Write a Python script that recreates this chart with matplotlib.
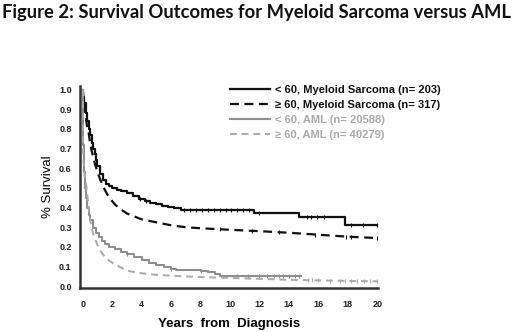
"""
Kaplan-Meier style survival curves: Myeloid Sarcoma versus AML by age group.
"""
import numpy as np
import matplotlib
matplotlib.use('Agg')
import matplotlib.pyplot as plt

# Myeloid sarcoma, age < 60 (n=203)
ms_young_t = [0, 0.05, 0.1, 0.2, 0.3, 0.4, 0.5, 0.6, 0.7, 0.8, 0.9, 1.0, 1.2, 1.4, 1.6,
              1.8, 2.0, 2.3, 2.6, 3.0, 3.4, 3.8, 4.2, 4.6, 5.0, 5.4, 5.8, 6.2, 6.7,
              11.6, 14.7, 17.8, 20.0]
ms_young_s = [1.0, 0.96, 0.93, 0.88, 0.84, 0.80, 0.77, 0.73, 0.70, 0.67, 0.64, 0.61, 0.57,
              0.54, 0.52, 0.51, 0.50, 0.49, 0.485, 0.475, 0.46, 0.445, 0.435, 0.425,
              0.418, 0.41, 0.405, 0.40, 0.39, 0.37, 0.35, 0.31, 0.31]
ms_young_cens = [3.9, 4.3, 6.9, 7.3, 7.7, 8.1, 8.5, 8.9, 9.3, 9.7, 10.1, 10.5, 10.9, 11.3,
                 12.0, 15.2, 15.5, 15.9, 16.4, 18.2, 19.0, 20.0]

# Myeloid sarcoma, age >= 60 (n=317)
ms_old_t = [0, 0.1, 0.2, 0.3, 0.4, 0.5, 0.6, 0.7, 0.8, 1.0, 1.2, 1.5, 1.8, 2.2, 2.6,
            3.0, 3.5, 4.0, 5.0, 6.0, 7.0, 8.0, 10.0, 12.0, 14.0, 16.0, 18.0, 20.0]
ms_old_s = [1.0, 0.92, 0.86, 0.81, 0.78, 0.73, 0.69, 0.66, 0.63, 0.58, 0.54, 0.49, 0.45,
            0.415, 0.39, 0.37, 0.355, 0.34, 0.325, 0.31, 0.30, 0.295, 0.287, 0.28, 0.272,
            0.262, 0.252, 0.245]
ms_old_cens = [9.3, 11.5, 13.3, 15.8, 17.9, 18.2, 20.0]

# AML, age < 60 (n=20588)
aml_young_t = [0, 0.02, 0.05, 0.1, 0.15, 0.2, 0.3, 0.4, 0.5, 0.7, 0.9, 1.1, 1.3, 1.5,
               1.8, 2.2, 2.6, 3.0, 3.5, 4.0, 4.5, 5.0, 5.5, 6.0, 6.3, 7.0, 8.0, 8.5,
               9.0, 9.3, 14.8]
aml_young_s = [1.0, 0.86, 0.72, 0.58, 0.50, 0.45, 0.40, 0.36, 0.335, 0.295, 0.27, 0.25,
               0.23, 0.215, 0.20, 0.19, 0.175, 0.165, 0.15, 0.135, 0.12, 0.11, 0.10,
               0.09, 0.085, 0.083, 0.08, 0.07, 0.06, 0.05, 0.05]
aml_young_cens = [3.0, 6.0, 8.0, 10.5, 11.2, 12.0, 12.5, 13.0, 13.3, 13.6, 14.0, 14.4, 14.7]

# AML, age >= 60 (n=40279)
aml_old_t = [0, 0.02, 0.05, 0.1, 0.15, 0.2, 0.25, 0.3, 0.4, 0.5, 0.6, 0.7, 0.8, 1.0,
             1.2, 1.5, 1.8, 2.2, 2.6, 3.0, 3.5, 4.0, 5.0, 6.0, 7.0, 8.0, 10.0, 12.0,
             14.0, 16.0, 18.0, 20.0]
aml_old_s = [1.0, 0.70, 0.64, 0.59, 0.55, 0.53, 0.51, 0.47, 0.40, 0.34, 0.30, 0.27,
             0.245, 0.21, 0.18, 0.15, 0.13, 0.11, 0.095, 0.08, 0.072, 0.066, 0.058,
             0.054, 0.05, 0.047, 0.042, 0.038, 0.033, 0.03, 0.027, 0.025]
aml_old_cens = [15.3, 15.6, 16.0, 16.8, 17.5, 17.8, 18.2, 18.6, 19.1, 19.5, 20.0]

labels = ['< 60, Myeloid Sarcoma (n= 203)', '\u2265 60, Myeloid Sarcoma (n= 317)',
          '< 60, AML (n= 20588)', '\u2265 60, AML (n= 40279)']
x_ticks = [0, 2, 4, 6, 8, 10, 12, 14, 16, 18, 20]
y_ticks = [0.0, 0.1, 0.2, 0.3, 0.4, 0.5, 0.6, 0.7, 0.8, 0.9, 1.0]

DARK = '#111111'
GRAY = '#8e8e8e'
LIGHT = '#a9a9a9'


def curve_value(t, s, x, stepped):
    """Value of a curve at x (step-post or linear)."""
    if not stepped:
        return np.interp(x, t, s)
    idx = np.searchsorted(t, x, side='right') - 1
    return np.asarray(s)[np.clip(idx, 0, len(s) - 1)]


plt.rcParams['font.family'] = ['Liberation Sans', 'DejaVu Sans']
fig = plt.figure(figsize=(5.2, 3.32), dpi=100)
ax = fig.add_axes([0.154, 0.133, 0.573, 0.608])

# large-n dashed curves are drawn smooth, the solid ones as steps
curves = [
    (ms_young_t, ms_young_s, ms_young_cens, DARK, '-', 1.6, True),
    (ms_old_t, ms_old_s, ms_old_cens, DARK, (0, (4, 2.5)), 1.6, False),
    (aml_young_t, aml_young_s, aml_young_cens, GRAY, '-', 1.5, True),
    (aml_old_t, aml_old_s, aml_old_cens, LIGHT, (0, (3.5, 2.5)), 1.4, False),
]
handles = []
for (t, s, cens, color, ls, lw, stepped), label in zip(curves, labels):
    line, = ax.plot(t, s, drawstyle='steps-post' if stepped else 'default',
                    color=color, linestyle=ls, linewidth=lw, label=label)
    ax.plot(cens, curve_value(t, s, cens, stepped), linestyle='none', marker='|',
            markersize=3.5, markeredgewidth=0.8, color=color)
    handles.append(line)

ax.set_xlim(-0.18, 20.05)
ax.set_ylim(-0.008, 1.018)
ax.set_xticks(x_ticks)
ax.set_yticks(y_ticks)
ax.set_yticklabels([f'{v:.1f}' for v in y_ticks])
ax.tick_params(length=0, labelsize=6.5)
ax.tick_params(axis='x', pad=9)
ax.tick_params(axis='y', pad=6)
for lab in ax.get_xticklabels() + ax.get_yticklabels():
    lab.set_fontweight('bold')
    lab.set_color('#222222')

for side in ['top', 'right']:
    ax.spines[side].set_visible(False)
for side in ['left', 'bottom']:
    ax.spines[side].set_linewidth(1.8)
    ax.spines[side].set_color('#333333')

ax.set_xlabel('Years  from  Diagnosis', fontsize=9.5, fontweight='bold', labelpad=6)
ax.set_ylabel('% Survival', fontsize=9.5, labelpad=4)

leg = ax.legend(handles=handles, loc='upper left', bbox_to_anchor=(0.443, 0.745),
                bbox_transform=fig.transFigure, frameon=False, fontsize=8,
                handlelength=3.6, handletextpad=0.45, labelspacing=0.45,
                borderaxespad=0, borderpad=0)
for text, color in zip(leg.get_texts(), [DARK, DARK, LIGHT, LIGHT]):
    text.set_color(color)
    text.set_fontweight('bold')

fig.text(0.004, 0.962, 'Figure 2: Survival Outcomes for Myeloid Sarcoma versus AML',
         fontsize=13.2, fontweight='bold', family=['Lato', 'DejaVu Sans'],
         ha='left', va='center', color='#111111')

fig.savefig('out.png', dpi=100)
